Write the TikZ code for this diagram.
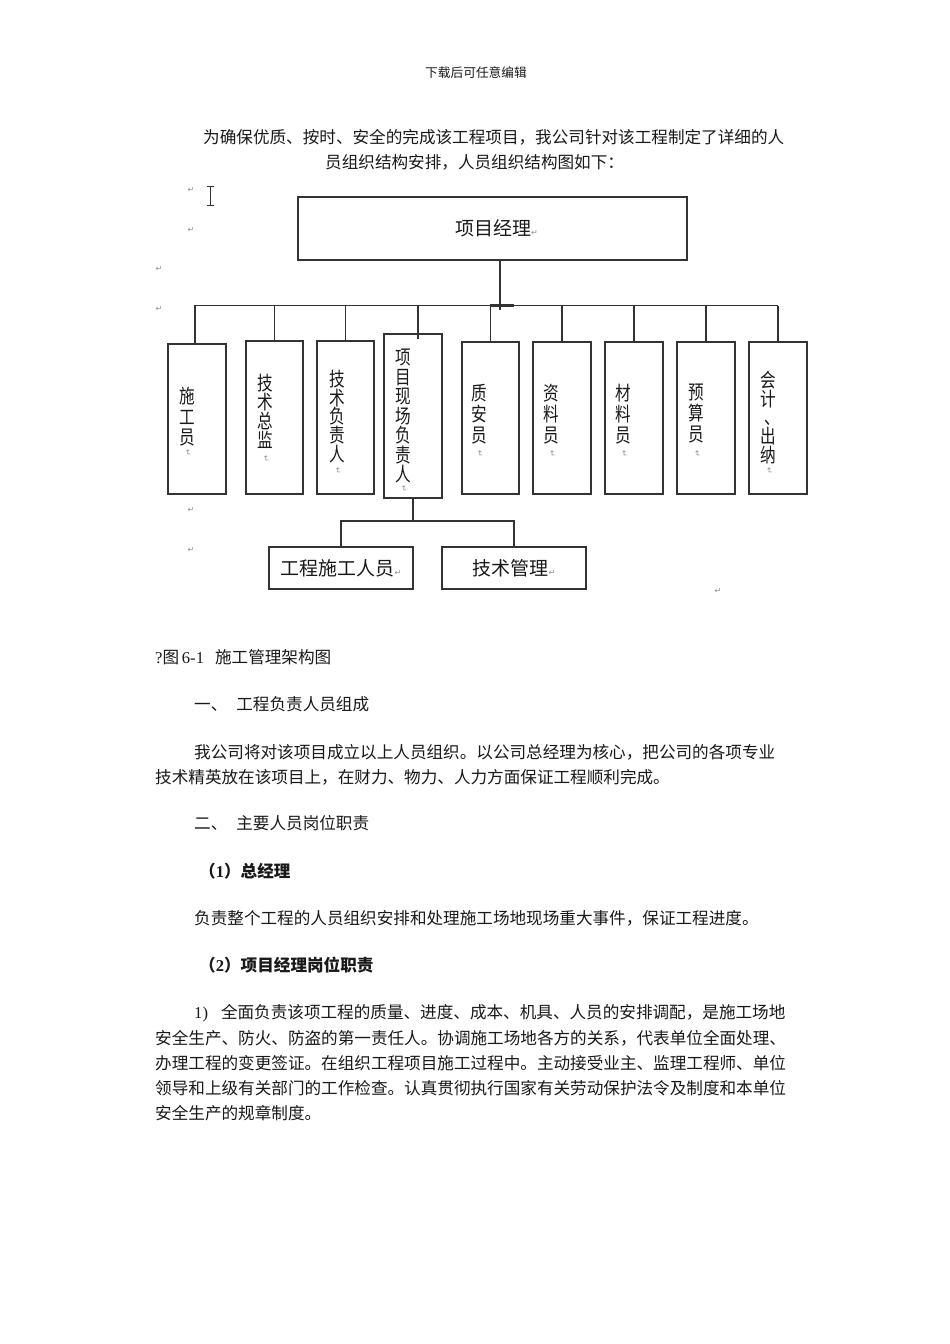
\documentclass[tikz,border=0pt]{standalone}
\usepackage{fontspec}
\setmainfont{Liberation Serif}
\newfontfamily\cjk{Noto Sans CJK SC}
\newfontfamily\cjkn[FakeStretch=0.8]{Noto Sans CJK SC}
\newfontfamily\dv{DejaVu Sans}
\definecolor{retgray}{gray}{0.55}
\definecolor{linec}{gray}{0.2}
\definecolor{txtc}{gray}{0.1}
\newcommand\retm{{\dv\color{retgray}\fontsize{8}{8}\selectfont ↵}}
\newcommand\vcomma{\kern0.4em 、}
\begin{document}
\begin{tikzpicture}[x=1pt,y=-1pt,
  box/.style={draw=linec, line width=1.3pt, inner sep=0pt},
  conn/.style={draw=linec, line width=1.1pt},
  body/.style={anchor=west, inner sep=0pt, font=\cjk\fontsize{16.6}{20}\selectfont, text=txtc},
  hlab/.style={inner sep=0pt, font=\cjk\fontsize{19}{20}\selectfont, text=txtc},
  vlab/.style={inner sep=0pt, anchor=north, align=center, font=\cjkn\fontsize{19.5}{#1}\selectfont, text=txtc},
  vlab/.default=19.5,
  retmark/.style={inner sep=0pt, text=retgray, font=\dv\fontsize{8}{8}\selectfont},
  vret/.style={retmark, rotate=-90}]
\fill[white] (0,0) rectangle (950,1344);
\useasboundingbox (0,0) rectangle (950,1344);

% header
\node[inner sep=0pt, font=\cjk\fontsize{12.7}{13}\selectfont, text=txtc] (hdr) at (476,73) {下载后可任意编辑};

% intro
\node[body] (t1) at (203,137) {为确保优质、按时、安全的完成该工程项目，我公司针对该工程制定了详细的人};
\node[body] (t2) at (325,162) {员组织结构安排，人员组织结构图如下：};

% paragraph marks on the left
\node[retmark] (r1) at (191,190) {↵};
\node[retmark] (r2) at (191,230) {↵};
\node[retmark] (r3) at (159,269) {↵};
\node[retmark] (r4) at (159,309) {↵};
\node[retmark] (r5) at (191,510) {↵};
\node[retmark] (r6) at (191,550) {↵};
\node[retmark] (r7) at (718,591) {↵};

% text cursor
\draw[linec, line width=1pt] (210,186) -- (210,205) (206.5,186) -- (213.5,186) (206.5,205) -- (213.5,205);

% top box
\node[box, minimum width=389pt, minimum height=63pt] (pm) at (492.5,228.5) {};
\node[hlab, anchor=west] (pml) at (455,228) {项目经理\retm};

% second row boxes
\node[box, minimum width=58pt, minimum height=150pt] (b1) at (197,419) {};
\node[box, minimum width=57pt, minimum height=153pt] (b2) at (274.5,417.5) {};
\node[box, minimum width=57pt, minimum height=153pt] (b3) at (345.5,417.5) {};
\node[box, minimum width=58pt, minimum height=164pt] (b4) at (413,416) {};
\node[box, minimum width=57pt, minimum height=152pt] (b5) at (490.5,418) {};
\node[box, minimum width=58pt, minimum height=152pt] (b6) at (562,418) {};
\node[box, minimum width=58pt, minimum height=152pt] (b7) at (634,418) {};
\node[box, minimum width=58pt, minimum height=152pt] (b8) at (706,418) {};
\node[box, minimum width=58pt, minimum height=152pt] (b9) at (778,418) {};

% vertical labels
\node[vlab=20.5] (l1) at (187,387) {施\\工\\员};
\node[vret] (m1) at (188,453) {↵};
\node[vlab=19] (l2) at (265,374) {技\\术\\总\\监};
\node[vret] (m2) at (266,459) {↵};
\node[vlab=18.7] (l3) at (337,370) {技\\术\\负\\责\\人};
\node[vret] (m3) at (338,471) {↵};
\node[vlab=19.5] (l4) at (403,349) {项\\目\\现\\场\\负\\责\\人};
\node[vret] (m4) at (404,489) {↵};
\node[vlab=21] (l5) at (479,384) {质\\安\\员};
\node[vret] (m5) at (480,454) {↵};
\node[vlab=21] (l6) at (551,384) {资\\料\\员};
\node[vret] (m6) at (552,454) {↵};
\node[vlab=21] (l7) at (623,384) {材\\料\\员};
\node[vret] (m7) at (624,454) {↵};
\node[vlab=21] (l8) at (696,384) {预\\算\\员};
\node[vret] (m8) at (697,454) {↵};
\node[vlab=18.7] (l9) at (768,371) {会\\计\\\vcomma\\出\\纳};
\node[vret] (m9) at (769,471) {↵};

% third row
\node[box, minimum width=144pt, minimum height=42pt, hlab] (ga) at (341,568) {工程施工人员\retm};
\node[box, minimum width=144pt, minimum height=42pt, hlab] (gb) at (514,568) {技术管理\retm};

% connectors
\coordinate (bus) at (0,305.5);
\coordinate (jn) at (413,521);
\draw[conn] ([xshift=7.5pt]pm.south) -- ([xshift=7.5pt,yshift=-49pt]pm.south);
\draw[conn] (b1.north -| 195,0) |- (b9.north |- bus);
\draw[conn] (b9.north) -- (b9.north |- bus);
\draw[conn] (b2.north) -- (b2.north |- bus);
\draw[conn] (b3.north) -- (b3.north |- bus);
\draw[conn] ([xshift=5pt,yshift=-6pt]b4.north) -- ([xshift=5pt]b4.north |- bus);
\draw[conn] (b5.north) -- (b5.north |- bus);
\draw[conn] (b6.north) -- (b6.north |- bus);
\draw[conn] (b7.north) -- (b7.north |- bus);
\draw[conn] (b8.north) -- (b8.north |- bus);
\draw[draw=linec, line width=2.4pt] (490,305.5) -- (514,305.5);
\draw[conn] (b4.south) -- (jn);
\draw[conn] (ga.north) |- (jn) -| (gb.north);

% body text
\node[body] (c1) at (155,657) {{\rmfamily ?}图\,{\rmfamily 6-1}\hspace{11pt}施工管理架构图};
\node[body] (c2) at (194,704) {一、\hspace{9pt}工程负责人员组成};
\node[body] (c3) at (194,752) {我公司将对该项目成立以上人员组织。以公司总经理为核心，把公司的各项专业};
\node[body] (c4) at (155,777) {技术精英放在该项目上，在财力、物力、人力方面保证工程顺利完成。};
\node[body] (c5) at (194,823) {二、\hspace{9pt}主要人员岗位职责};
\node[body, font=\cjk\bfseries\fontsize{16.6}{20}\selectfont] (c6) at (199,871) {（{\rmfamily\bfseries 1}）总经理};
\node[body] (c7) at (194,918) {负责整个工程的人员组织安排和处理施工场地现场重大事件，保证工程进度。};
\node[body, font=\cjk\bfseries\fontsize{16.6}{20}\selectfont] (c8) at (199,965) {（{\rmfamily\bfseries 2}）项目经理岗位职责};
\node[body] (c9) at (194,1013) {{\rmfamily 1)}\hspace{13pt}全面负责该项工程的质量、进度、成本、机具、人员的安排调配，是施工场地};
\node[body] (c10) at (155,1038) {安全生产、防火、防盗的第一责任人。协调施工场地各方的关系，代表单位全面处理、};
\node[body] (c11) at (155,1063) {办理工程的变更签证。在组织工程项目施工过程中。主动接受业主、监理工程师、单位};
\node[body] (c12) at (155,1088) {领导和上级有关部门的工作检查。认真贯彻执行国家有关劳动保护法令及制度和本单位};
\node[body] (c13) at (155,1113) {安全生产的规章制度。};
\end{tikzpicture}
\end{document}
